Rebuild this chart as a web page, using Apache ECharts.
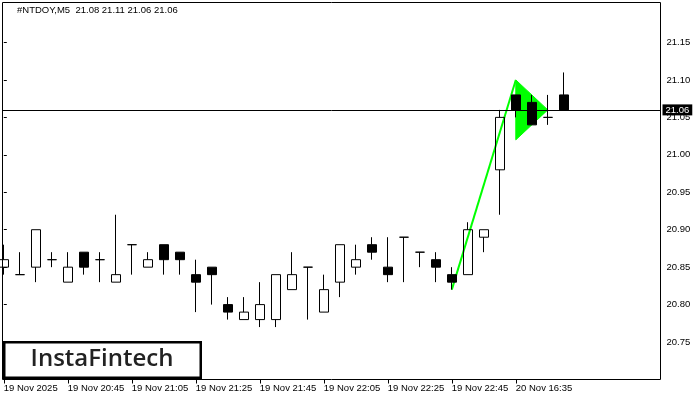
<!DOCTYPE html>
<html><head><meta charset="utf-8">
<script src="https://cdn.jsdelivr.net/npm/echarts@6/dist/echarts.min.js"></script>
<style>html,body{margin:0;padding:0;background:#fff}#c{width:700px;height:400px}</style>
</head><body><div id="c"></div>
<script>
const symbolTitle = '#NTDOY,M5  21.08 21.11 21.06 21.06';
const candleIndex = [0,1,2,3,4,5,6,7,8,9,10,11,12,13,14,15,16,17,18,19,20,21,22,23,24,25,26,27,28,29,30,31,32,33,34,35];
const opens  = [20.85,20.84,20.85,20.86,20.83,20.87,20.86,20.83,20.88,20.85,20.88,20.87,20.84,20.85,20.80,20.78,20.78,20.78,20.82,20.85,20.79,20.83,20.85,20.88,20.85,20.89,20.87,20.86,20.84,20.84,20.89,20.98,21.08,21.07,21.05,21.08];
const closes = [20.86,20.84,20.90,20.86,20.85,20.85,20.86,20.84,20.88,20.86,20.86,20.86,20.83,20.84,20.79,20.79,20.80,20.84,20.84,20.85,20.82,20.88,20.86,20.87,20.84,20.89,20.87,20.85,20.83,20.90,20.90,21.05,21.06,21.04,21.05,21.06];
const lows   = [20.84,20.84,20.83,20.85,20.83,20.84,20.83,20.83,20.84,20.85,20.84,20.84,20.79,20.80,20.78,20.78,20.77,20.77,20.82,20.78,20.79,20.81,20.84,20.86,20.83,20.83,20.85,20.83,20.82,20.84,20.87,20.92,21.05,21.04,21.04,21.06];
const highs  = [20.88,20.87,20.90,20.87,20.87,20.87,20.87,20.92,20.88,20.87,20.88,20.87,20.86,20.85,20.81,20.81,20.83,20.84,20.87,20.85,20.84,20.88,20.88,20.89,20.89,20.89,20.87,20.87,20.85,20.91,20.90,21.06,21.08,21.08,21.08,21.11];
const timeTickIndex  = [0,4,8,12,16,20,24,28,32];
const timeTickLabels = ['19 Nov 2025','19 Nov 20:45','19 Nov 21:05','19 Nov 21:25','19 Nov 21:45','19 Nov 22:05','19 Nov 22:25','19 Nov 22:45','20 Nov 16:35'];
const priceTicks = [20.75,20.80,20.85,20.90,20.95,21.00,21.05,21.10,21.15];
const lastPrice = 21.06;
const poleX = [28, 32];
const poleY = [20.82, 21.10];
const pennantX = [32, 32, 34];
const pennantY = [21.10, 21.02, 21.06];

const FONT = '"Liberation Sans", Arial, sans-serif';
const chart = echarts.init(document.getElementById('c'), null, {renderer: 'canvas'});
const candleData = candleIndex.map((x, i) => [x, opens[i], closes[i], lows[i], highs[i]]);

chart.setOption({
  animation: false,
  backgroundColor: '#fff',
  grid: {left: 2.5, top: 2.5, right: 39.5, bottom: 20.5, show: true, borderColor: '#000', borderWidth: 1, backgroundColor: 'transparent', containLabel: false, outerBoundsMode: 'none'},
  xAxis: {
    type: 'value', min: -0.08125, max: 41.04375,
    axisLine: {show: false}, splitLine: {show: false},
    axisTick: {show: true, length: 4, lineStyle: {color: '#000', width: 1}, customValues: timeTickIndex},
    axisLabel: {show: true, customValues: timeTickIndex, align: 'left', margin: 4, color: '#000', fontSize: 9.5, fontFamily: FONT,
      formatter: v => { const k = timeTickIndex.indexOf(Math.round(v)); return k >= 0 ? timeTickLabels[k] : ''; }}
  },
  yAxis: {
    type: 'value', position: 'right', min: 20.70, max: 21.2034, interval: 0.05, scale: true,
    axisLine: {show: false}, splitLine: {show: false},
    axisTick: {show: true, length: 3, lineStyle: {color: '#000', width: 1}, customValues: priceTicks},
    axisLabel: {show: true, customValues: priceTicks, margin: 6, color: '#000', fontSize: 9.5, fontFamily: FONT,
      formatter: v => v.toFixed(2)}
  },
  series: [
    {
      type: 'custom', z: 1, silent: true,
      data: [0],
      renderItem: (params, api) => {
        const pts = pennantX.map((x, k) => api.coord([x, pennantY[k]]));
        return {type: 'polygon', shape: {points: pts}, style: {fill: '#00ff00', stroke: '#00ff00', lineWidth: 1}};
      }
    },
    {
      type: 'line', z: 1, silent: true, symbol: 'none',
      data: poleX.map((x, k) => [x, poleY[k]]),
      lineStyle: {color: '#00ff00', width: 2}
    },
    {
      type: 'candlestick', z: 2, barWidth: 10,
      data: candleData,
      itemStyle: {color: 'rgba(255,255,255,0)', color0: '#000', borderColor: '#000', borderColor0: '#000', borderWidth: 1},
      markLine: {
        silent: true, symbol: ['none', 'none'], animation: false,
        lineStyle: {color: '#000', width: 1, type: 'solid'},
        label: {show: true, position: 'end', distance: 2, formatter: () => lastPrice.toFixed(2),
          color: '#fff', backgroundColor: '#000', padding: [1, 3, 0, 3], fontSize: 9.5, fontFamily: FONT},
        data: [{yAxis: lastPrice}]
      }
    }
  ],
  graphic: [
    {type: 'text', left: 17, top: 5, z: 10, style: {text: symbolTitle, fill: '#000', font: '9.5px ' + FONT}},
    {type: 'rect', z: 10, shape: {x: 4.25, y: 342.25, width: 196.5, height: 35.5}, style: {fill: '#fff', stroke: '#000', lineWidth: 2.5}},
    {type: 'text', z: 11, x: 102, y: 359, style: {text: 'InstaFintech', fill: '#222', font: '600 24px "Open Sans", sans-serif', align: 'center', verticalAlign: 'middle'}}
  ]
});
</script></body></html>
